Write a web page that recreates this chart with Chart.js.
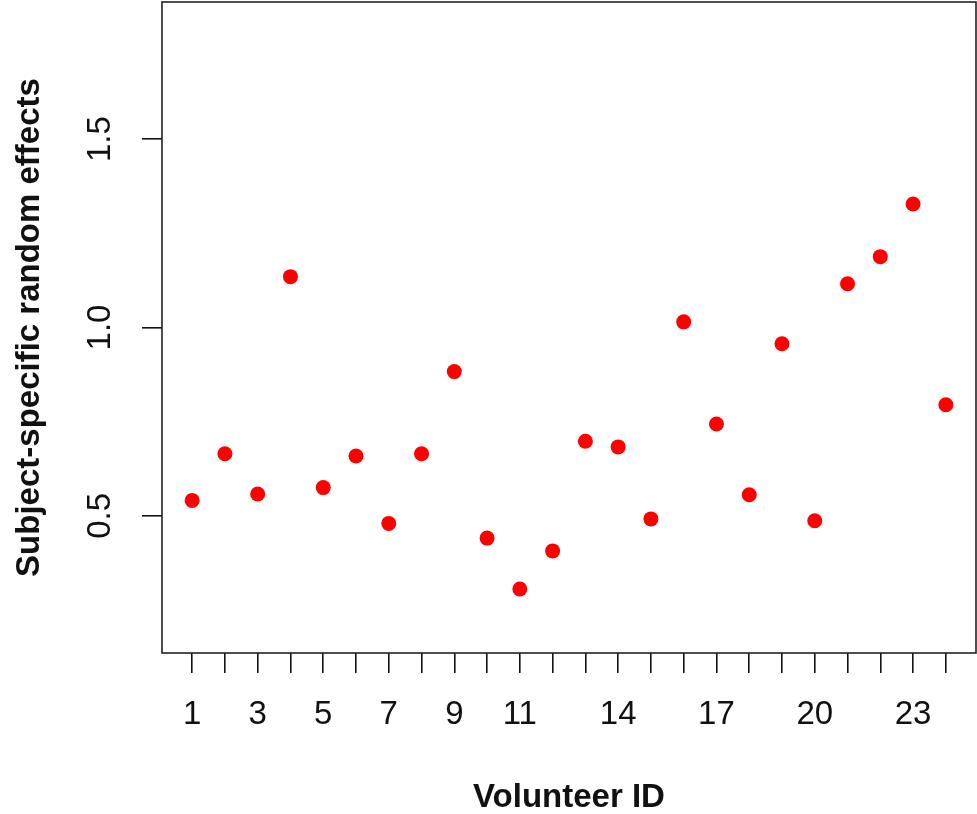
<!DOCTYPE html>
<html>
<head>
<meta charset="utf-8">
<script src="https://cdn.jsdelivr.net/npm/chart.js@4/dist/chart.umd.min.js"></script>
<style>
  body { margin: 0; background: #fff; }
  canvas { display: block; }
</style>
</head>
<body>
<canvas id="effects" width="977" height="814"></canvas>
<script>
const volunteers = [1, 2, 3, 4, 5, 6, 7, 8, 9, 10, 11, 12, 13, 14, 15, 16, 17, 18, 19, 20, 21, 22, 23, 24];
const effects = [0.541, 0.665, 0.558, 1.135, 0.575, 0.659, 0.480, 0.665, 0.883, 0.441, 0.306, 0.407,
  0.698, 0.683, 0.492, 1.015, 0.744, 0.556, 0.957, 0.487, 1.116, 1.188, 1.328, 0.795];
const xTickLabels = ["1", "", "3", "", "5", "", "7", "", "9", "", "11", "", "", "14", "", "", "17", "", "", "20", "", "", "23", ""];
const yTicks = [0.5, 1.0, 1.5];
const yTickLabels = ["0.5", "1.0", "1.5"];

const FONT = "'Liberation Sans', Arial, sans-serif";

document.addEventListener("DOMContentLoaded", function () {
  const frame = {
    id: "frame",
    afterDatasetsDraw(chart) {
      const { ctx, chartArea: a } = chart;
      ctx.save();
      ctx.strokeStyle = "#222";
      ctx.lineWidth = 1.6;
      ctx.strokeRect(a.left, a.top, a.right - a.left, a.bottom - a.top);
      ctx.restore();
    },
  };

  new Chart(document.getElementById("effects"), {
    type: "scatter",
    data: {
      datasets: [
        {
          data: volunteers.map((v, i) => ({ x: v, y: effects[i] })),
          backgroundColor: "#ff0000",
          borderWidth: 0,
          pointRadius: 7.5,
          pointHoverRadius: 7.5,
        },
      ],
    },
    options: {
      responsive: false,
      animation: false,
      layout: { autoPadding: false, padding: { top: 2, right: 1, left: 0, bottom: 0 } },
      plugins: { legend: { display: false }, tooltip: { enabled: false } },
      scales: {
        x: {
          type: "linear",
          min: 0.08,
          max: 24.92,
          afterBuildTicks: (s) => {
            s.ticks = volunteers.map((v) => ({ value: v }));
          },
          afterFit: (s) => {
            s.height = 161;
            s.paddingLeft = 0;
            s.paddingRight = 0;
          },
          border: { display: false },
          grid: {
            drawOnChartArea: false,
            drawTicks: true,
            tickLength: 20,
            tickColor: "#111",
            lineWidth: 1.6,
          },
          ticks: {
            autoSkip: false,
            maxRotation: 0,
            padding: 22,
            color: "#111",
            font: { family: FONT, size: 33 },
            callback: (val, i) => xTickLabels[i],
          },
          title: {
            display: true,
            text: "Volunteer ID",
            color: "#111",
            padding: 0,
            font: { family: FONT, size: 33, weight: "bold", lineHeight: 1 },
          },
        },
        y: {
          min: 0.136,
          max: 1.864,
          afterBuildTicks: (s) => {
            s.ticks = yTicks.map((v) => ({ value: v }));
          },
          afterFit: (s) => {
            s.width = 162;
            s.paddingTop = 0;
            s.paddingBottom = 0;
          },
          border: { display: false },
          grid: {
            drawOnChartArea: false,
            drawTicks: true,
            tickLength: 20,
            tickColor: "#111",
            lineWidth: 1.6,
          },
          ticks: {
            minRotation: 90,
            maxRotation: 90,
            crossAlign: "center",
            padding: 18,
            color: "#111",
            font: { family: FONT, size: 33 },
            callback: (val, i) => yTickLabels[i],
          },
          title: {
            display: true,
            text: "Subject-specific random effects",
            color: "#111",
            padding: { top: 13, bottom: 0 },
            font: { family: FONT, size: 33, weight: "bold", lineHeight: 1 },
          },
        },
      },
    },
    plugins: [frame],
  });
});
</script>
</body>
</html>
